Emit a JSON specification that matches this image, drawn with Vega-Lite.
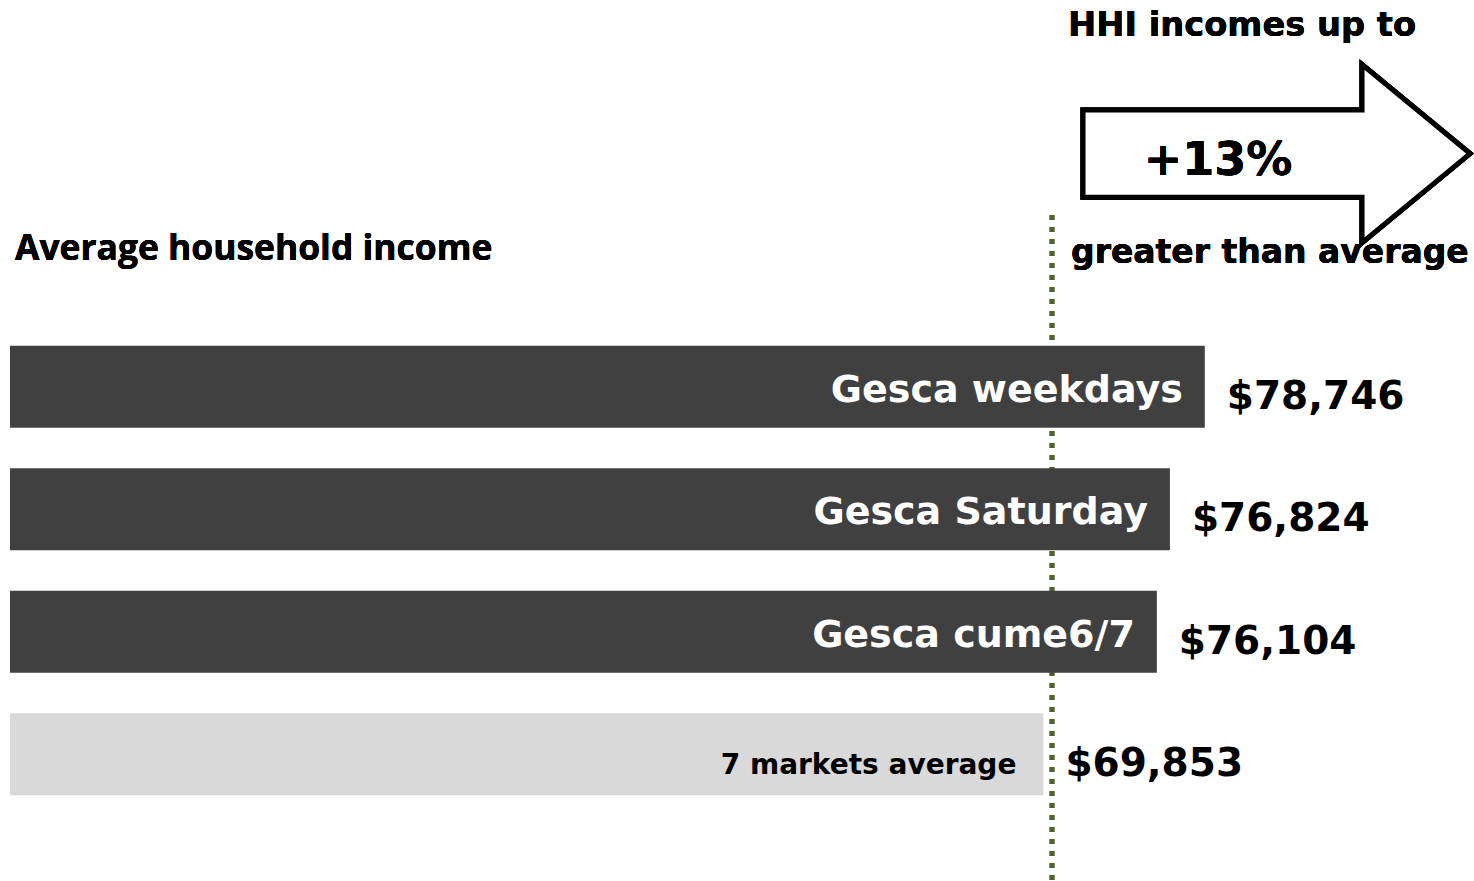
{
  "$schema": "https://vega.github.io/schema/vega-lite/v6.json",
  "width": 1474,
  "height": 881,
  "autosize": "none",
  "padding": 0,
  "background": "white",
  "config": {"view": {"stroke": null}},
  "data": {
    "values": [
      {"label": "Gesca weekdays", "value": 78746, "group": "Gesca"},
      {"label": "Gesca Saturday", "value": 76824, "group": "Gesca"},
      {"label": "Gesca cume6/7", "value": 76104, "group": "Gesca"},
      {"label": "7 markets average", "value": 69853, "group": "Markets"}
    ]
  },
  "encoding": {
    "x": {"field": "value", "type": "quantitative", "scale": {"domain": [12362, 93579], "nice": false, "zero": false}, "axis": null},
    "y": {"field": "label", "type": "nominal", "axis": null,
      "scale": {"type": "band", "domain": ["arrow", "header", "Gesca weekdays", "Gesca Saturday", "Gesca cume6/7", "7 markets average"], "paddingInner": 0.33, "paddingOuter": 0.76, "align": 0.54}}
  },
  "layer": [
    {
      "mark": {"type": "rule", "color": "#4F6228", "strokeWidth": 4.5, "strokeDash": [5, 7]},
      "encoding": {
        "x": {"datum": 70327, "type": "quantitative"},
        "y": {"datum": "header", "bandPosition": -0.1},
        "y2": {"value": "height"}
      }
    },
    {
      "mark": {"type": "bar"},
      "encoding": {
        "x2": {"datum": 12913},
        "color": {"field": "group", "type": "nominal", "scale": {"domain": ["Gesca", "Markets"], "range": ["#404040", "#D9D9D9"]}, "legend": null}
      }
    },
    {
      "transform": [{"filter": "datum.group === 'Gesca'"}],
      "mark": {"type": "text", "align": "right", "baseline": "alphabetic", "dx": -22, "dy": 15, "font": "DejaVu Sans", "fontWeight": "bold", "fontSize": 38, "color": "white"},
      "encoding": {"text": {"field": "label"}}
    },
    {
      "transform": [{"filter": "datum.group === 'Markets'"}],
      "mark": {"type": "text", "align": "right", "baseline": "alphabetic", "dx": -27, "dy": 20, "font": "DejaVu Sans", "fontWeight": "bold", "fontSize": 28, "color": "black"},
      "encoding": {"text": {"field": "label"}}
    },
    {
      "mark": {"type": "text", "align": "left", "baseline": "alphabetic", "dx": 22, "dy": 22, "font": "DejaVu Sans", "fontWeight": "bold", "fontSize": 39, "color": "black"},
      "encoding": {"text": {"field": "value", "type": "quantitative", "format": "$,.0f"}}
    },
    {
      "mark": {"type": "point", "filled": true, "fill": "white", "stroke": "black", "strokeWidth": 5, "opacity": 1, "fillOpacity": 1,
        "shape": "M-1,-0.225L0.442,-0.225L0.442,-0.46L1,0L0.442,0.46L0.442,0.225L-1,0.225Z", "size": 149769, "yOffset": 12},
      "encoding": {
        "x": {"datum": 82698, "type": "quantitative"},
        "y": {"datum": "arrow"}
      }
    },
    {
      "mark": {"type": "text", "text": "+13%", "align": "center", "baseline": "alphabetic", "dy": 33, "font": "DejaVu Sans", "fontWeight": "bold", "fontSize": 46, "color": "black"},
      "encoding": {
        "x": {"datum": 79474, "type": "quantitative"},
        "y": {"datum": "arrow"}
      }
    },
    {
      "mark": {"type": "text", "text": "HHI incomes up to", "align": "left", "baseline": "alphabetic", "dy": -106, "font": "DejaVu Sans", "fontWeight": "bold", "fontSize": 33.7, "color": "black"},
      "encoding": {
        "x": {"datum": 71209, "type": "quantitative"},
        "y": {"datum": "arrow"}
      }
    },
    {
      "mark": {"type": "text", "text": "greater than average", "align": "left", "baseline": "alphabetic", "dy": -1, "font": "DejaVu Sans", "fontWeight": "bold", "fontSize": 33, "color": "black"},
      "encoding": {
        "x": {"datum": 71374, "type": "quantitative"},
        "y": {"datum": "header"}
      }
    },
    {
      "mark": {"type": "text", "text": "Average household income", "align": "left", "baseline": "alphabetic", "dy": -4, "font": "Open Sans", "fontWeight": "bold", "fontSize": 35.4, "color": "black"},
      "encoding": {
        "x": {"datum": 13189, "type": "quantitative"},
        "y": {"datum": "header"}
      }
    }
  ]
}
